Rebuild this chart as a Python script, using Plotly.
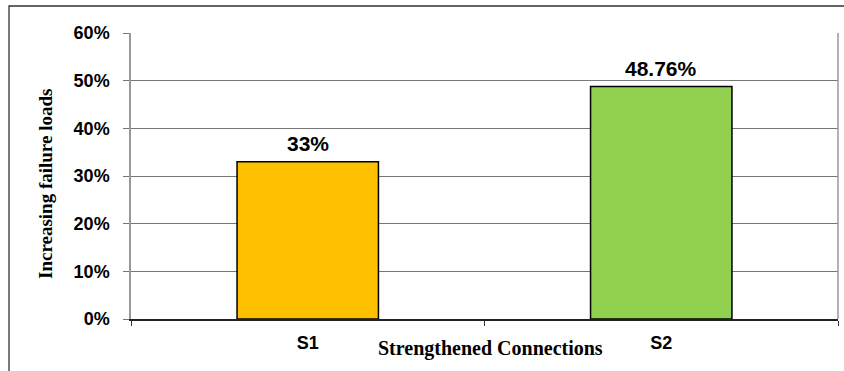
import plotly.graph_objects as go

# Chart data
categories = ["S1", "S2"]
increase_pct = [33, 48.76]
value_labels = ["33%", "48.76%"]
bar_colors = ["#FFC000", "#92D050"]
y_tick_vals = [0, 10, 20, 30, 40, 50, 60]
y_tick_text = ["0%", "10%", "20%", "30%", "40%", "50%", "60%"]

W, H = 844, 371
L, R, T, B = 131, 6, 33, 52
pw, ph = W - L - R, H - T - B

fig = go.Figure(
    go.Bar(
        x=categories,
        y=increase_pct,
        width=0.4,
        marker=dict(color=bar_colors, line=dict(color="#000000", width=1.5)),
        cliponaxis=False,
    )
)

# value labels above each bar
for cat, val, lab in zip(categories, increase_pct, value_labels):
    fig.add_annotation(x=cat, y=val, text=lab, showarrow=False,
                       xanchor="center", yanchor="bottom", yshift=5,
                       font=dict(family="Liberation Sans, Arial", size=21,
                                 color="#000000", weight="bold"))

# outer chart frame (runs past the right and bottom edges)
fx0 = (9 - L) / pw
fy1 = 1 + (T - 6) / ph
fig.add_shape(type="rect", xref="paper", yref="paper",
              x0=fx0, x1=1.2, y0=-0.5, y1=fy1,
              line=dict(color="#333333", width=1.3), layer="below")
# right border of the plot area
fig.add_shape(type="line", xref="paper", yref="paper",
              x0=1, x1=1, y0=0, y1=1, line=dict(color="#999999", width=1.5))

# axis titles
fig.add_annotation(text="Strengthened Connections", xref="paper", yref="paper",
                   x=(490 - L) / pw, y=-(348 - (H - B)) / ph, showarrow=False,
                   xanchor="center", yanchor="middle",
                   font=dict(family="Liberation Serif, Times New Roman", size=20,
                             color="#000000", weight="bold"))
fig.add_annotation(text="Increasing failure loads", xref="paper", yref="paper",
                   x=(45 - L) / pw, y=1 - (184 - T) / ph, showarrow=False,
                   textangle=-90, xanchor="center", yanchor="middle",
                   font=dict(family="Liberation Serif, Times New Roman", size=19,
                             color="#000000", weight="bold"))

fig.update_layout(
    width=W, height=H,
    margin=dict(l=L, r=R, t=T, b=B),
    paper_bgcolor="#ffffff", plot_bgcolor="#ffffff",
    showlegend=False,
    bargap=0.6,
    xaxis=dict(
        tickson="boundaries", ticks="outside", ticklen=5, tickcolor="#333333",
        showline=True, linecolor="#222222", linewidth=1.5,
        showgrid=False, ticklabelstandoff=7,
        tickfont=dict(family="Liberation Sans, Arial", size=18, color="#000000", weight="bold"),
        range=[-0.5, 1.5],
    ),
    yaxis=dict(
        range=[0, 60], tickvals=y_tick_vals, ticktext=y_tick_text,
        ticks="outside", ticklen=6, tickcolor="#777777",
        showline=True, linecolor="#999999", linewidth=1.5,
        showgrid=True, gridcolor="#777777", gridwidth=1,
        zeroline=False, ticklabelstandoff=10,
        tickfont=dict(family="Liberation Sans, Arial", size=18, color="#000000", weight="bold"),
    ),
)

fig.write_html("out.html")
